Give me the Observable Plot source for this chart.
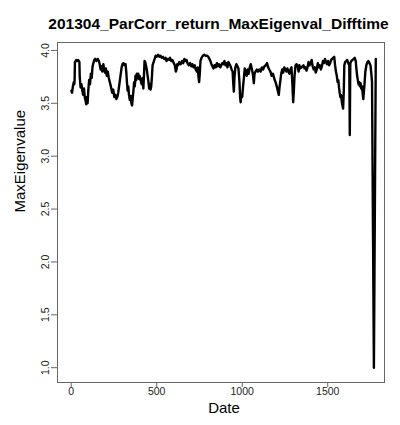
<!DOCTYPE html>
<html>
<head>
<meta charset="utf-8">
<script src="https://cdn.jsdelivr.net/npm/d3@7"></script>
<script src="https://cdn.jsdelivr.net/npm/@observablehq/plot@0.6"></script>
<style>
  html, body { margin: 0; padding: 0; background: #fff; }
  #chart { width: 400px; height: 425px; }
</style>
</head>
<body>
<div id="chart"></div>
<script>
const title = "201304_ParCorr_return_MaxEigenval_Difftime";
const xLabel = "Date";
const yLabel = "MaxEigenvalue";
const xTicks = [0, 500, 1000, 1500];
const yTicks = [1.0, 1.5, 2.0, 2.5, 3.0, 3.5, 4.0];

const dates = [
  1,5,10,15,18,20,22,26,30,35,40,45,48,50,55,60,65,70,75,80,85,88,92,96,100,105,110,115,120,125,130,135,140,148,155,162,168,172,178,182,188,192,198,203,208,214,220,226,232,240,246,252,258,264,270,275,280,285,290,295,300,306,312,318,322,326,330,334,338,343,348,352,356,360,364,368,372,376,380,384,388,392,396,400,406,412,418,422,426,429,433,437,442,447,452,456,460,464,468,472,476,482,488,494,500,508,515,522,530,537,544,552,558,565,572,578,585,592,600,606,612,616,620,626,632,640,648,655,662,668,675,680,688,695,702,708,715,722,728,735,740,745,748,752,756,762,770,778,786,795,802,808,814,820,826,832,838,845,852,858,865,872,878,884,890,896,902,908,914,920,926,932,938,944,948,951,955,960,966,972,978,984,988,991,995,1000,1005,1010,1015,1020,1026,1032,1038,1044,1050,1056,1062,1068,1072,1078,1085,1092,1100,1108,1115,1122,1130,1138,1145,1152,1158,1165,1172,1180,1188,1195,1202,1208,1214,1218,1222,1228,1234,1240,1246,1252,1258,1264,1270,1276,1282,1288,1293,1298,1302,1306,1312,1318,1324,1330,1334,1340,1346,1352,1358,1364,1370,1376,1382,1388,1394,1400,1406,1412,1418,1424,1430,1436,1442,1448,1454,1460,1466,1472,1478,1484,1490,1496,1502,1508,1514,1520,1526,1532,1538,1543,1548,1553,1558,1562,1566,1570,1574,1578,1582,1586,1590,1594,1597,1602,1608,1614,1620,1626,1629,1632,1638,1645,1652,1658,1664,1668,1672,1676,1680,1684,1688,1692,1696,1700,1704,1708,1712,1716,1720,1726,1732,1738,1744,1750,1755,1759,1770,1781
];
const values = [
  3.62,3.60,3.66,3.70,3.68,3.72,3.89,3.90,3.91,3.90,3.91,3.90,3.89,3.75,3.65,3.68,3.62,3.58,3.64,3.55,3.52,3.49,3.56,3.50,3.62,3.72,3.68,3.78,3.74,3.85,3.88,3.91,3.92,3.90,3.92,3.90,3.86,3.82,3.85,3.80,3.87,3.83,3.79,3.83,3.76,3.80,3.74,3.70,3.66,3.60,3.63,3.56,3.58,3.54,3.56,3.60,3.66,3.72,3.78,3.84,3.87,3.88,3.86,3.87,3.80,3.70,3.62,3.66,3.58,3.53,3.57,3.50,3.48,3.55,3.62,3.70,3.66,3.76,3.72,3.78,3.74,3.78,3.73,3.76,3.72,3.68,3.74,3.64,3.78,3.90,3.89,3.86,3.82,3.76,3.70,3.64,3.68,3.63,3.66,3.75,3.86,3.89,3.92,3.95,3.94,3.96,3.94,3.95,3.93,3.94,3.92,3.93,3.90,3.92,3.91,3.93,3.90,3.91,3.88,3.86,3.80,3.82,3.87,3.86,3.89,3.87,3.90,3.88,3.92,3.90,3.91,3.88,3.86,3.88,3.85,3.87,3.84,3.86,3.82,3.80,3.84,3.74,3.70,3.78,3.90,3.93,3.95,3.96,3.95,3.95,3.94,3.92,3.90,3.87,3.85,3.83,3.86,3.84,3.88,3.85,3.87,3.84,3.86,3.88,3.87,3.90,3.86,3.88,3.84,3.89,3.87,3.85,3.82,3.80,3.68,3.61,3.75,3.84,3.87,3.85,3.83,3.70,3.55,3.51,3.58,3.56,3.66,3.74,3.83,3.80,3.76,3.82,3.78,3.84,3.87,3.83,3.78,3.69,3.78,3.80,3.82,3.80,3.82,3.80,3.84,3.82,3.85,3.86,3.88,3.84,3.82,3.80,3.76,3.78,3.73,3.70,3.66,3.62,3.58,3.65,3.70,3.78,3.82,3.79,3.84,3.82,3.80,3.83,3.80,3.78,3.82,3.84,3.70,3.51,3.62,3.76,3.86,3.87,3.85,3.80,3.86,3.83,3.84,3.85,3.86,3.83,3.84,3.81,3.84,3.89,3.86,3.88,3.91,3.85,3.82,3.84,3.79,3.82,3.88,3.84,3.86,3.82,3.85,3.90,3.88,3.92,3.89,3.87,3.90,3.86,3.88,3.91,3.92,3.93,3.94,3.86,3.80,3.76,3.70,3.72,3.65,3.60,3.56,3.58,3.52,3.48,3.45,3.62,3.86,3.89,3.90,3.91,3.88,3.86,3.20,3.88,3.90,3.91,3.92,3.93,3.90,3.82,3.76,3.72,3.68,3.70,3.66,3.69,3.64,3.66,3.60,3.54,3.62,3.70,3.80,3.86,3.89,3.90,3.88,3.86,3.78,3.70,1.00,3.92
];

const data = dates.map((d, i) => ({date: d, value: values[i]}));
const font = "'Liberation Sans', Arial, Helvetica, sans-serif";

const chart = Plot.plot({
  width: 400,
  height: 425,
  marginLeft: 57,
  marginRight: 16,
  marginTop: 42,
  marginBottom: 43,
  style: {fontFamily: font, background: "#fff", color: "#222"},
  x: {domain: [-80, 1832], label: null},
  y: {domain: [0.86, 4.075], label: null},
  marks: [
    Plot.frame({stroke: "#666", strokeWidth: 1}),
    Plot.axisX({ticks: xTicks, tickSize: 5, tickPadding: 0, fontSize: 10.5, label: null, stroke: "#666", tickFormat: d3.format("d")}),
    Plot.axisY({ticks: yTicks, tickSize: 6, tickPadding: 3, tickRotate: -90, fontSize: 10.5, label: null, tickFormat: d3.format(".1f"), stroke: "#666"}),
    Plot.line(data, {x: "date", y: "value", stroke: "#000", strokeWidth: 2.4, strokeLinejoin: "round"}),
    Plot.text([title], {frameAnchor: "top", dy: -25, dx: -2.5, fontSize: 15.5, fontWeight: "bold", fill: "#000"}),
    Plot.text([xLabel], {frameAnchor: "bottom", dy: 30, dx: 3, fontSize: 15, fill: "#000"}),
    Plot.text([yLabel], {frameAnchor: "left", dx: -37, rotate: -90, fontSize: 15, fill: "#000"})
  ]
});
document.getElementById("chart").appendChild(chart);
</script>
</body>
</html>
